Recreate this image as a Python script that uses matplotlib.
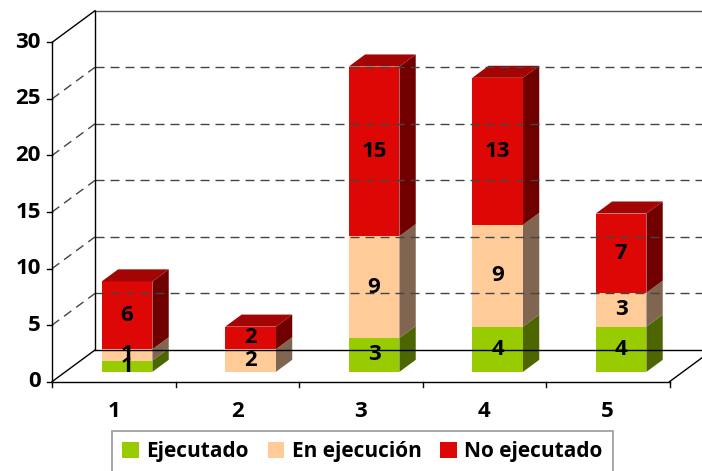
import matplotlib.pyplot as plt
from matplotlib.patches import Polygon, Patch

plt.rcParams["font.family"] = ["Open Sans", "DejaVu Sans"]
plt.rcParams["font.weight"] = "bold"

categories = ["1", "2", "3", "4", "5"]
ejecutado = [1, 0, 3, 4, 4]
en_ejecucion = [1, 2, 9, 9, 3]
no_ejecutado = [6, 2, 15, 13, 7]
series_names = ["Ejecutado", "En ejecución", "No ejecutado"]
y_ticks = [0, 5, 10, 15, 20, 25, 30]

# front face, side face, top face
colors = [
    ("#99cc00", "#4d6600", "#6b8f00"),
    ("#ffcc99", "#806650", "#c9a27a"),
    ("#dd0806", "#700000", "#a30404"),
]

# pixel geometry of the reference (origin of the front axes, scale)
W, H = 702, 471
ox, oy = 52, 381.7
px_cat, px_val = 123.5, 11.31
wall_dx, wall_dy = 43 / px_cat, 31.7 / px_val
d0, d1 = 0.31, 0.69
bar_w = 0.41
ymax = 30
fs = 16


def proj(x, y, d):
    return x + d * wall_dx, y + d * wall_dy


fig = plt.figure(figsize=(W / 100, H / 100), dpi=100)
ax = fig.add_axes([0, 0, 1, 1])
xmin, xmax = -ox / px_cat, (W - ox) / px_cat
ax.set_xlim(xmin, xmax)
ax.set_ylim(-(H - oy) / px_val, oy / px_val)
ax.axis("off")

n = len(categories)
dash = dict(color="#444444", lw=1, dashes=(6.5, 4.3))
solid = dict(color="black", lw=1)

# walls and gridlines
for v in y_ticks[1:-1]:
    ax.plot([wall_dx, xmax], [v + wall_dy] * 2, **dash)
    ax.plot([0, wall_dx], [v, v + wall_dy], **dash)
ax.plot([wall_dx, xmax], [ymax + wall_dy] * 2, color="#555555", lw=1)
ax.plot([0, wall_dx], [ymax, ymax + wall_dy], **solid)
ax.plot([0, wall_dx], [0, wall_dy], **solid)
ax.plot([wall_dx, wall_dx], [wall_dy, ymax + wall_dy], **solid)
ax.plot([wall_dx, n + wall_dx], [wall_dy, wall_dy], **solid)
ax.plot([0, n], [0, 0], **solid)
ax.plot([n, n + wall_dx], [0, wall_dy], **solid)
ax.plot([0, 0], [0, ymax], **solid)

tick_x = 5 / px_cat
tick_y = 5 / px_val
for v in y_ticks:
    ax.plot([-tick_x, 0], [v, v], **solid)
    ax.text(-11 / px_cat, v, str(v), ha="right", va="center", fontsize=fs)
for i in range(n + 1):
    ax.plot([i, i], [0, -tick_y], **solid)
for i, c in enumerate(categories):
    ax.text(i + 0.5, -29.8 / px_val, c, ha="center", va="center", fontsize=fs)

# stacked 3d bars
series = [ejecutado, en_ejecucion, no_ejecutado]
for i in range(n):
    xl = i + 0.5 - bar_w / 2
    xr = i + 0.5 + bar_w / 2
    base = 0
    last = max(k for k in range(3) if series[k][i] > 0)
    for k in range(3):
        val = series[k][i]
        if val == 0:
            continue
        top = base + val
        front_c, side_c, top_c = colors[k]
        front = [proj(xl, base, d0), proj(xr, base, d0), proj(xr, top, d0), proj(xl, top, d0)]
        side = [proj(xr, base, d0), proj(xr, base, d1), proj(xr, top, d1), proj(xr, top, d0)]
        ax.add_patch(Polygon(side, closed=True, facecolor=side_c, edgecolor="none"))
        ax.add_patch(Polygon(front, closed=True, facecolor=front_c, edgecolor="none"))
        if k == last:
            tp = [proj(xl, top, d0), proj(xr, top, d0), proj(xr, top, d1), proj(xl, top, d1)]
            ax.add_patch(Polygon(tp, closed=True, facecolor=top_c, edgecolor="none"))
        cx, cy = proj(i + 0.5, (base + top) / 2, d0)
        ax.text(cx, cy, str(val), ha="center", va="center", fontsize=fs, color="black")
        base = top

handles = [Patch(facecolor=colors[k][0], edgecolor="none") for k in range(3)]
leg = fig.legend(handles, series_names, loc="upper center",
                 bbox_to_anchor=(362.5 / W, 1 - 431 / H), ncol=3, fontsize=15,
                 frameon=True, fancybox=False, edgecolor="#808080",
                 handlelength=0.8, handleheight=0.8, handletextpad=0.35,
                 columnspacing=0.9, borderpad=0.5, borderaxespad=0)
leg.get_frame().set_linewidth(1.2)

fig.savefig("out.png", dpi=100)
